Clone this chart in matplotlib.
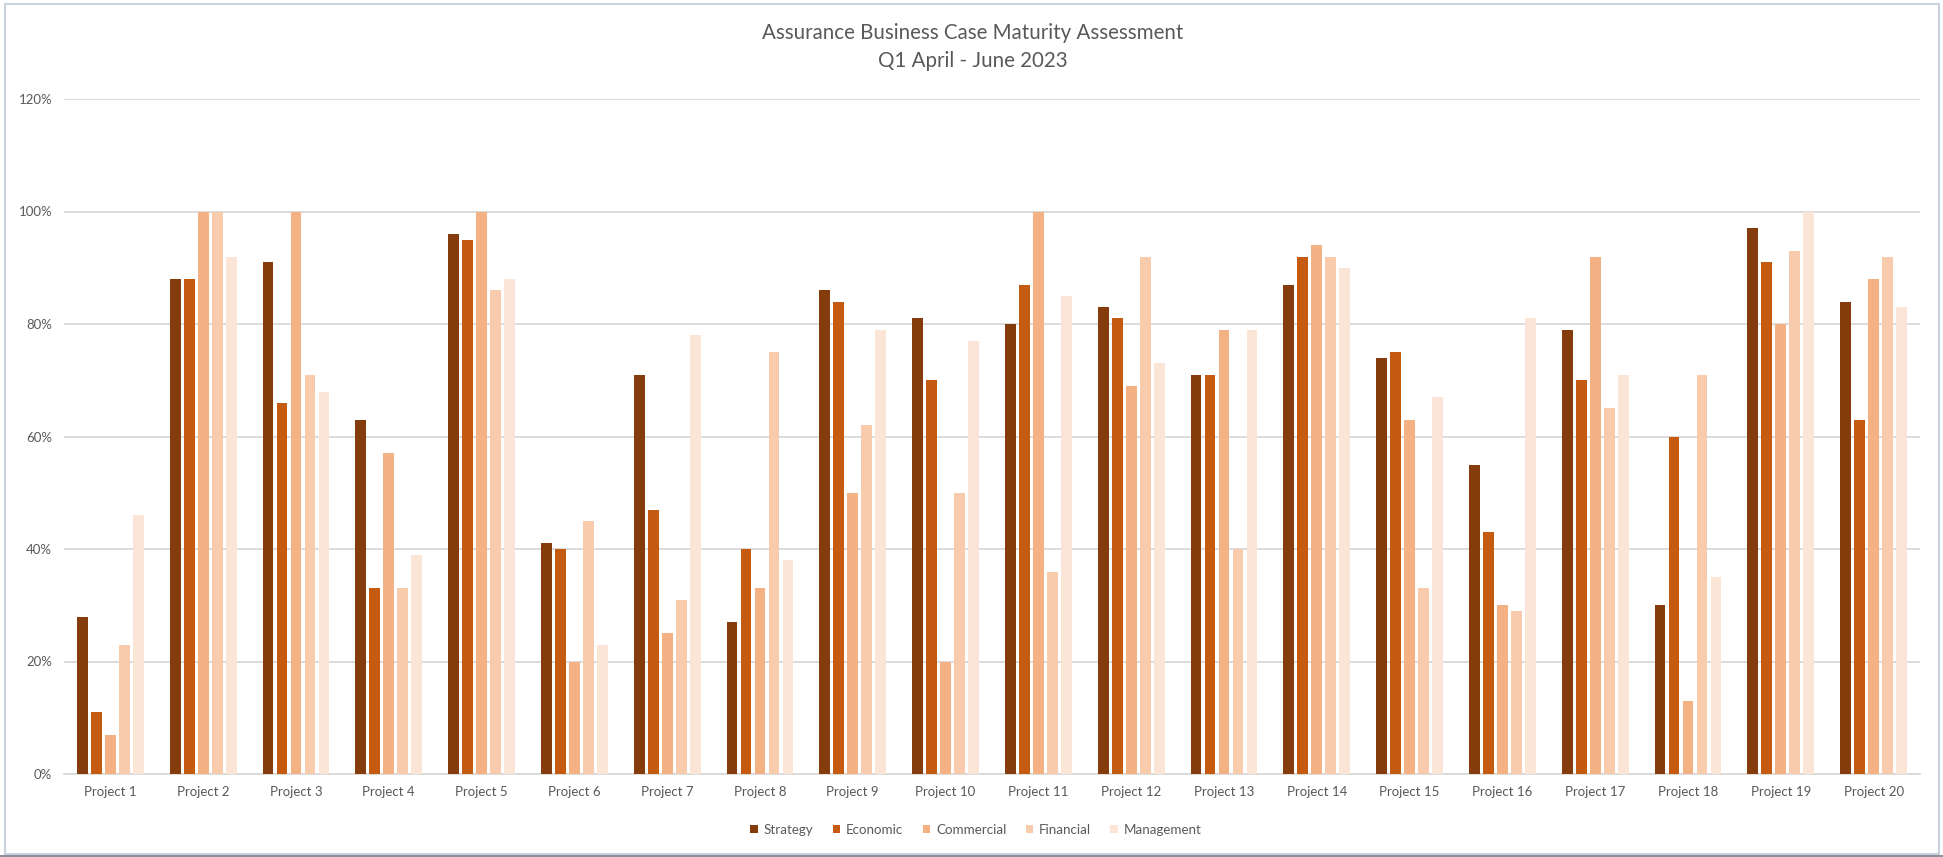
import matplotlib
matplotlib.use("Agg")
import matplotlib.pyplot as plt
from matplotlib.patches import Rectangle
from matplotlib.ticker import FuncFormatter
import numpy as np

# ---- data ----
projects = [f"Project {i}" for i in range(1, 21)]
series = ["Strategy", "Economic", "Commercial", "Financial", "Management"]
strategy = [28, 88, 91, 63, 96, 41, 71, 27, 86, 81, 80, 83, 71, 87, 74, 55, 79, 30, 97, 84]
economic = [11, 88, 66, 33, 95, 40, 47, 40, 84, 70, 87, 81, 71, 92, 75, 43, 70, 60, 91, 63]
commercial = [7, 100, 100, 57, 100, 20, 25, 33, 50, 20, 100, 69, 79, 94, 63, 30, 92, 13, 80, 88]
financial = [23, 100, 71, 33, 86, 45, 31, 75, 62, 50, 36, 92, 40, 92, 33, 29, 65, 71, 93, 92]
management = [46, 92, 68, 39, 88, 23, 78, 38, 79, 77, 85, 73, 79, 90, 67, 81, 71, 35, 100, 83]
y_ticks = [0, 20, 40, 60, 80, 100, 120]
title_lines = ["Assurance Business Case Maturity Assessment", "Q1 April - June 2023"]

colors = ["#843C0C", "#C55A11", "#F4B183", "#F8CBAD", "#FBE5D6"]
values = [strategy, economic, commercial, financial, management]

plt.rcParams["font.family"] = ["Lato", "DejaVu Sans"]
TXT = "#595959"
GRID = "#D9D9D9"

W, H = 1943, 857
fig = plt.figure(figsize=(W / 100, H / 100), dpi=100)
ax = fig.add_axes([64 / W, 1 - 774 / H, (1920 - 64) / W, (774 - 99) / H])

x = np.arange(len(projects))
step = 0.151
width = 0.115
for j, (name, vals, c) in enumerate(zip(series, values, colors)):
    ax.bar(x + (j - 2) * step, vals, width=width, color=c, label=name, zorder=3)

ax.set_xlim(-0.5, len(projects) - 0.5)
ax.set_ylim(0, 120)
ax.set_yticks(y_ticks)
ax.yaxis.set_major_formatter(FuncFormatter(lambda v, p: f"{int(v)}%"))
ax.set_xticks(x)
ax.set_xticklabels(projects)
ax.grid(axis="y", color=GRID, linewidth=1.3, zorder=0)
for s in ["top", "right", "left"]:
    ax.spines[s].set_visible(False)
ax.spines["bottom"].set_color(GRID)
ax.spines["bottom"].set_linewidth(1.3)
ax.tick_params(axis="both", length=0, colors=TXT, labelsize=9.5)
ax.tick_params(axis="y", pad=8.5)
ax.tick_params(axis="x", pad=9)

fig.text(973 / W, 1 - 33 / H, title_lines[0], ha="center", va="center", fontsize=14.8, color=TXT)
fig.text(973 / W, 1 - 61 / H, title_lines[1], ha="center", va="center", fontsize=14.8, color=TXT)

leg = fig.legend(loc="center", bbox_to_anchor=(976 / W, 1 - 830 / H), ncol=5, frameon=False,
                 handlelength=0.55, handleheight=0.55, handletextpad=0.45, columnspacing=1.45,
                 fontsize=9.6, labelcolor=TXT)

# outer frame
fig.patches.append(Rectangle((5 / W, 3 / H), (1939 - 5) / W, (853 - 3) / H, transform=fig.transFigure,
                             fill=False, edgecolor="#C8D2DE", linewidth=1.5, zorder=10))
fig.patches.append(Rectangle((0, 0), 1, 2.5 / H, transform=fig.transFigure,
                             facecolor="#8C9199", edgecolor="none", zorder=10))

fig.savefig("out.png", dpi=100, facecolor="white")
